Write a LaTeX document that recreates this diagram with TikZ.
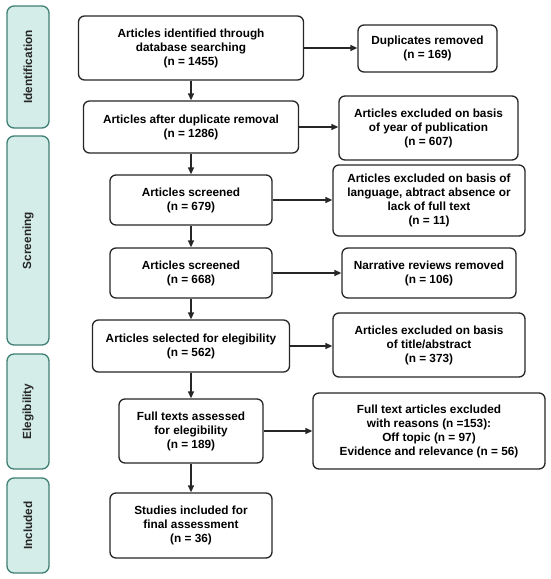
\documentclass[tikz,border=0pt]{standalone}
\usepackage{fontspec}
\setmainfont{Liberation Sans}
\usetikzlibrary{arrows.meta}
\definecolor{phasefill}{HTML}{D4EDE8}
\definecolor{phasedraw}{HTML}{3F7F74}
\definecolor{boxdraw}{HTML}{262626}
\begin{document}
\begin{tikzpicture}[x=1pt,y=-1pt,
  box/.style={draw=boxdraw,line width=1.3pt,rounded corners=6pt,fill=white,
    align=center,inner sep=0pt,font=\fontsize{11.8}{14}\selectfont\bfseries},
  phase/.style={draw=phasedraw,line width=1.3pt,rounded corners=7pt,fill=phasefill,
    minimum width=42pt,inner sep=0pt},
  phaselabel/.style={rotate=90,font=\fontsize{11.8}{14}\selectfont\bfseries,text=boxdraw},
  arr/.style={draw=boxdraw,line width=1.4pt,-{Triangle[length=7pt,width=6pt]}}]
\useasboundingbox (0,0) rectangle (550,579);
% phases
\node[phase,minimum height=122pt] (p1) at (28,67) {};
\node[phaselabel] (p1t) at (p1.center) {Identification};
\node[phase,minimum height=209pt] (p2) at (28,240.5) {};
\node[phaselabel] (p2t) at (p2.center) {Screening};
\node[phase,minimum height=115pt] (p3) at (28,411.5) {};
\node[phaselabel] (p3t) at (p3.center) {Elegibility};
\node[phase,minimum height=95pt] (p4) at (28,525.5) {};
\node[phaselabel] (p4t) at (p4.center) {Included};
% main boxes
\node[box,minimum width=225pt,minimum height=64pt] (m1) at (191,48) {Articles identified through\\database searching\\(n = 1455)};
\node[box,minimum width=215pt,minimum height=52pt] (m2) at (191,127) {Articles after duplicate removal\\(n = 1286)};
\node[box,minimum width=162pt,minimum height=50pt] (m3) at (191,200) {Articles screened\\(n = 679)};
\node[box,minimum width=162pt,minimum height=50pt] (m4) at (191,273) {Articles screened\\(n = 668)};
\node[box,minimum width=197pt,minimum height=52pt] (m5) at (191,346) {Articles selected for elegibility\\(n = 562)};
\node[box,minimum width=144pt,minimum height=64pt] (m6) at (191,431) {Full texts assessed\\for elegibility\\(n = 189)};
\node[box,minimum width=162pt,minimum height=65pt] (m7) at (191,525.5) {Studies included for\\final assessment\\(n = 36)};
% right boxes
\node[box,minimum width=139pt,minimum height=47pt] (r1) at (427.5,48.5) {Duplicates removed\\(n = 169)};
\node[box,minimum width=179pt,minimum height=64pt] (r2) at (428.5,128) {Articles excluded on basis\\of year of publication\\(n = 607)};
\node[box,minimum width=192pt,minimum height=71pt] (r3) at (429,200.5) {Articles excluded on basis of\\language, abtract absence or\\lack of full text\\(n = 11)};
\node[box,minimum width=174pt,minimum height=50pt] (r4) at (429,273) {Narrative reviews removed\\(n = 106)};
\node[box,minimum width=192pt,minimum height=64pt] (r5) at (429,345) {Articles excluded on basis\\of title/abstract\\(n = 373)};
\node[box,minimum width=232pt,minimum height=76pt] (r6) at (429,431) {Full text articles excluded\\with reasons (n =153):\\Off topic (n = 97)\\Evidence and relevance (n = 56)};
% vertical arrows
\draw[arr] (m1) -- (m2);
\draw[arr] (m2) -- (m3);
\draw[arr] (m3) -- (m4);
\draw[arr] (m4) -- (m5);
\draw[arr] (m5) -- (m6);
\draw[arr] (m6) -- (m7);
% horizontal arrows
\draw[arr] (m1.east) -- (r1.west |- m1.east);
\draw[arr] (m2.east) -- (r2.west |- m2.east);
\draw[arr] (m3.east) -- (r3.west |- m3.east);
\draw[arr] (m4.east) -- (r4.west |- m4.east);
\draw[arr] (m5.east) -- (r5.west |- m5.east);
\draw[arr] (m6.east) -- (r6.west |- m6.east);
\end{tikzpicture}
\end{document}
